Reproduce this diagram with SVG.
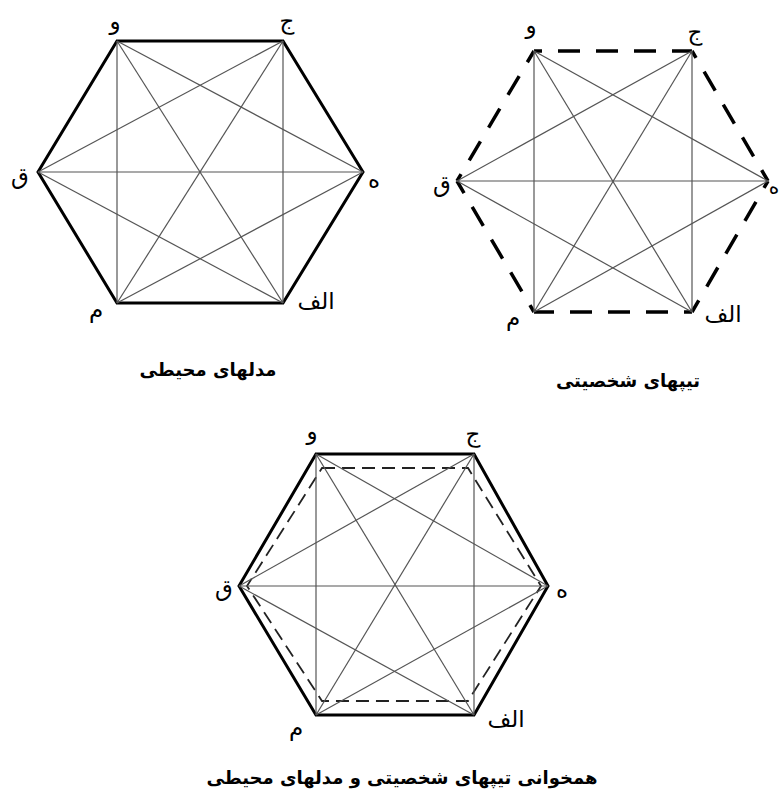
<svg xmlns="http://www.w3.org/2000/svg" width="782" height="805" viewBox="0 0 782 805">
<style>
.bg{fill:#ffffff}
.hex{fill:none;stroke:#000;stroke-width:3;stroke-linejoin:miter}
.dash{fill:none;stroke:#000;stroke-width:3.5;stroke-dasharray:22 16;stroke-dashoffset:14}
.idash{fill:none;stroke:#222;stroke-width:1.8;stroke-dasharray:13 7}
.diag{stroke:#555;stroke-width:1.2;fill:none}
.lbl{font-family:"DejaVu Sans","Noto Sans",sans-serif;font-size:23px;fill:#000;text-anchor:middle}
.cap{font-family:"DejaVu Sans","Noto Sans",sans-serif;font-size:18px;font-weight:bold;fill:#000;text-anchor:middle}
</style>
<rect class="bg" x="0" y="0" width="782" height="805"/>

<!-- Figure 1: environmental models (solid hexagon) -->
<g id="fig1">
  <g id="fig1-hexagon"><polygon class="hex" points="117,41 283,41 363,172 283,303 117,303 38,172"/></g>
  <g id="fig1-connectors">
    <line class="diag" x1="117" y1="41" x2="117" y2="303"/>
    <line class="diag" x1="283" y1="41" x2="283" y2="303"/>
    <line class="diag" x1="117" y1="41" x2="363" y2="172"/>
    <line class="diag" x1="117" y1="41" x2="283" y2="303"/>
    <line class="diag" x1="283" y1="41" x2="38" y2="172"/>
    <line class="diag" x1="283" y1="41" x2="117" y2="303"/>
    <line class="diag" x1="38" y1="172" x2="363" y2="172"/>
    <line class="diag" x1="38" y1="172" x2="283" y2="303"/>
    <line class="diag" x1="117" y1="303" x2="363" y2="172"/>
  </g>
  <g id="fig1-v-vav"><text class="lbl" x="115" y="29">و</text></g>
  <g id="fig1-v-jim"><text class="lbl" x="287" y="29">ج</text></g>
  <g id="fig1-v-he"><text class="lbl" x="374" y="188">ه</text></g>
  <g id="fig1-v-qaf"><text class="lbl" x="20" y="184">ق</text></g>
  <g id="fig1-v-mim"><text class="lbl" x="96" y="317">م</text></g>
  <g id="fig1-v-alef"><text class="lbl" x="316" y="309">الف</text></g>
  <g id="fig1-caption"><text class="cap" x="208" y="376">مدلهای محیطی</text></g>
</g>

<!-- Figure 2: personality types (dashed hexagon) -->
<g id="fig2">
  <g id="fig2-hexagon">
    <line class="dash" x1="534" y1="51" x2="692" y2="51"/>
    <line class="dash" x1="692" y1="51" x2="768" y2="181"/>
    <line class="dash" x1="768" y1="181" x2="692" y2="312"/>
    <line class="dash" x1="692" y1="312" x2="534" y2="312"/>
    <line class="dash" x1="534" y1="312" x2="457" y2="181"/>
    <line class="dash" x1="457" y1="181" x2="534" y2="51"/>
  </g>
  <g id="fig2-connectors">
    <line class="diag" x1="534" y1="51" x2="534" y2="312"/>
    <line class="diag" x1="692" y1="51" x2="692" y2="312"/>
    <line class="diag" x1="534" y1="51" x2="768" y2="181"/>
    <line class="diag" x1="534" y1="51" x2="692" y2="312"/>
    <line class="diag" x1="692" y1="51" x2="457" y2="181"/>
    <line class="diag" x1="692" y1="51" x2="534" y2="312"/>
    <line class="diag" x1="457" y1="181" x2="768" y2="181"/>
    <line class="diag" x1="457" y1="181" x2="692" y2="312"/>
    <line class="diag" x1="534" y1="312" x2="768" y2="181"/>
  </g>
  <g id="fig2-v-vav"><text class="lbl" x="531" y="33">و</text></g>
  <g id="fig2-v-jim"><text class="lbl" x="695" y="40">ج</text></g>
  <g id="fig2-v-he"><text class="lbl" x="774" y="194" style="font-size:20px">ه</text></g>
  <g id="fig2-v-qaf"><text class="lbl" x="442" y="192">ق</text></g>
  <g id="fig2-v-mim"><text class="lbl" x="513" y="325">م</text></g>
  <g id="fig2-v-alef"><text class="lbl" x="723" y="322">الف</text></g>
  <g id="fig2-caption"><text class="cap" x="628" y="387">تیپهای شخصیتی</text></g>
</g>

<!-- Figure 3: congruence -->
<g id="fig3">
  <g id="fig3-hexagon"><polygon class="hex" points="316,454 474,454 548,586 474,715 316,715 239,586"/></g>
  <g id="fig3-inner-hexagon"><polygon class="idash" points="322,468 468,468 541,586 468,701 322,701 247,586"/></g>
  <g id="fig3-connectors">
    <line class="diag" x1="316" y1="454" x2="316" y2="715"/>
    <line class="diag" x1="474" y1="454" x2="474" y2="715"/>
    <line class="diag" x1="316" y1="454" x2="548" y2="586"/>
    <line class="diag" x1="316" y1="454" x2="474" y2="715"/>
    <line class="diag" x1="474" y1="454" x2="239" y2="586"/>
    <line class="diag" x1="474" y1="454" x2="316" y2="715"/>
    <line class="diag" x1="239" y1="586" x2="548" y2="586"/>
    <line class="diag" x1="239" y1="586" x2="474" y2="715"/>
    <line class="diag" x1="316" y1="715" x2="548" y2="586"/>
  </g>
  <g id="fig3-v-vav"><text class="lbl" x="312" y="439">و</text></g>
  <g id="fig3-v-jim"><text class="lbl" x="473" y="442">ج</text></g>
  <g id="fig3-v-he"><text class="lbl" x="562" y="598">ه</text></g>
  <g id="fig3-v-qaf"><text class="lbl" x="224" y="596">ق</text></g>
  <g id="fig3-v-mim"><text class="lbl" x="296" y="735">م</text></g>
  <g id="fig3-v-alef"><text class="lbl" x="506" y="727">الف</text></g>
  <g id="fig3-caption"><text class="cap" x="402" y="784">همخوانی تیپهای شخصیتی و مدلهای محیطی</text></g>
</g>
</svg>
